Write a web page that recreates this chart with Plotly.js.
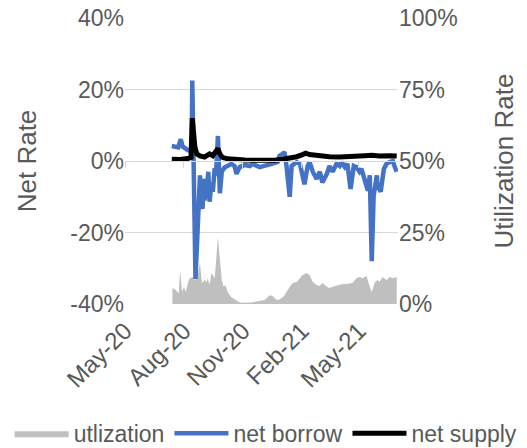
<!DOCTYPE html>
<html>
<head>
<meta charset="utf-8">
<script src="https://cdn.plot.ly/plotly-3.0.1.min.js"></script>
<style>html,body{margin:0;padding:0;background:#fff;}#chart{width:527px;height:448px;}</style>
</head>
<body>
<div id="chart"></div>
<script>
// utilization (right axis, %)
const utilDates = ["2020-07-14","2020-07-19","2020-07-24","2020-07-26","2020-07-29","2020-08-01","2020-08-04","2020-08-07","2020-08-10","2020-08-15","2020-08-18","2020-08-22","2020-08-26","2020-08-29","2020-09-02","2020-09-05","2020-09-07","2020-09-10","2020-09-13","2020-09-18","2020-09-23","2020-09-26","2020-09-29","2020-10-02","2020-10-05","2020-10-08","2020-10-14","2020-10-21","2020-10-27","2020-11-04","2020-11-15","2020-11-24","2020-12-05","2020-12-13","2020-12-17","2020-12-24","2020-12-28","2021-01-02","2021-01-05","2021-01-13","2021-01-18","2021-01-24","2021-01-29","2021-02-02","2021-02-08","2021-02-13","2021-02-18","2021-02-24","2021-03-01","2021-03-05","2021-03-12","2021-03-16","2021-03-21","2021-03-27","2021-04-01","2021-04-06","2021-04-12","2021-04-17","2021-04-21","2021-04-27","2021-05-02","2021-05-07","2021-05-13","2021-05-16","2021-05-21","2021-05-26","2021-05-30","2021-06-02","2021-06-07","2021-06-13","2021-06-18","2021-06-23","2021-06-29"];
const utilValues = [5.6,4.9,3.8,11.9,4.2,6.0,4.2,7.3,9.0,9.4,8.4,9.4,14.3,7.3,8.4,7.7,9.0,6.6,10.8,9.0,23.4,15.4,8.4,6.0,6.6,4.2,2.4,1.4,0.5,0.4,0.5,1.0,1.4,3.1,2.8,1.4,1.6,2.4,3.1,6.0,7.3,7.7,9.0,10.1,10.8,10.1,7.7,6.6,6.3,7.3,6.0,5.6,6.0,6.3,6.6,7.0,7.0,7.3,7.3,9.0,9.4,9.0,9.8,7.3,4.2,7.7,8.4,7.7,9.4,8.4,9.4,9.0,9.4];

// net borrow (left axis, %)
const borrowDates = ["2020-07-13","2020-07-18","2020-07-23","2020-07-27","2020-07-30","2020-08-05","2020-08-10","2020-08-13","2020-08-14","2020-08-19","2020-08-24","2020-08-26","2020-08-27","2020-08-30","2020-09-01","2020-09-02","2020-09-05","2020-09-08","2020-09-10","2020-09-13","2020-09-15","2020-09-18","2020-09-20","2020-09-23","2020-09-26","2020-09-29","2020-10-02","2020-10-04","2020-10-08","2020-10-14","2020-10-19","2020-10-22","2020-10-27","2020-11-04","2020-11-12","2020-11-16","2020-11-27","2020-12-05","2020-12-10","2020-12-16","2020-12-25","2020-12-28","2021-01-02","2021-01-05","2021-01-08","2021-01-13","2021-01-16","2021-01-24","2021-01-29","2021-02-01","2021-02-05","2021-02-10","2021-02-13","2021-02-18","2021-02-24","2021-03-01","2021-03-05","2021-03-12","2021-03-16","2021-03-21","2021-03-27","2021-04-01","2021-04-04","2021-04-09","2021-04-13","2021-04-18","2021-04-23","2021-04-27","2021-05-02","2021-05-05","2021-05-10","2021-05-15","2021-05-18","2021-05-21","2021-05-24","2021-05-29","2021-05-30","2021-06-04","2021-06-09","2021-06-13","2021-06-18","2021-06-23","2021-06-26","2021-06-29"];
const borrowValues = [4.2,3.9,3.8,6.1,4.0,3.3,2.8,3.0,22.5,-33.0,-10.0,-4.0,-12.0,-13.3,-5.0,-11.0,-8.6,-3.0,-11.4,-6.0,-8.6,-2.0,-4.0,7.0,-9.0,-3.0,-2.2,-1.7,-1.4,-0.8,-1.4,-3.6,-1.7,-1.1,-1.4,-0.8,-1.7,-1.4,-1.1,-0.8,-0.3,1.4,2.0,2.5,-1.4,-10.0,-1.4,-0.3,-0.8,-3.6,-6.5,-1.4,-0.3,-3.0,-5.0,-3.0,-6.0,-3.6,-1.4,-3.0,-0.8,-1.4,-0.3,-1.7,-0.8,-7.8,-1.4,-1.7,-3.0,-2.2,-5.8,-8.3,-4.0,-28.0,-9.7,-4.0,-7.0,-8.6,-2.2,-0.8,-0.3,0.0,-1.7,-3.0];

// net supply (left axis, %)
const supplyDates = ["2020-07-13","2020-07-26","2020-08-07","2020-08-12","2020-08-14","2020-08-18","2020-08-21","2020-08-26","2020-09-02","2020-09-10","2020-09-15","2020-09-20","2020-09-23","2020-09-26","2020-09-30","2020-10-08","2020-10-19","2020-11-04","2020-11-20","2020-12-05","2020-12-21","2021-01-02","2021-01-13","2021-01-24","2021-02-02","2021-02-07","2021-02-13","2021-03-01","2021-03-16","2021-04-01","2021-04-17","2021-04-29","2021-05-10","2021-05-21","2021-06-02","2021-06-18","2021-06-29"];
const supplyValues = [0.5,0.4,0.7,1.0,12.0,4.0,2.0,1.4,1.1,2.0,1.5,2.5,3.5,2.0,1.0,0.6,0.4,0.3,0.2,0.1,0.2,0.5,0.8,1.2,1.8,2.2,1.8,1.4,1.2,1.1,1.3,1.7,1.5,1.6,1.4,1.5,1.4];

const xRange = ["2020-05-01","2021-07-01"];
const netTicks = [-40,-20,0,20,40];
const netTickText = ["-40%","-20%","0%","20%","40%"];
const utilTicks = [0,25,50,75,100];
const utilTickText = ["0%","25%","50%","75%","100%"];

const FONT = "Liberation Sans, Arial, sans-serif";
const TXT = "#595959";
const W = 527;
const xDomain = [125 / W, 398 / W];

const traces = [
  {name:"utlization", x:utilDates, y:utilValues, xaxis:"x", yaxis:"y", type:"scatter", mode:"lines",
   fill:"tozeroy", fillcolor:"#BFBFBF", line:{width:0, color:"#BFBFBF"}, hoverinfo:"skip"},
  {name:"net borrow", x:borrowDates, y:borrowValues, xaxis:"x2", yaxis:"y2", type:"scatter", mode:"lines",
   line:{color:"#4472C4", width:4.5}},
  {name:"net supply", x:supplyDates, y:supplyValues, xaxis:"x2", yaxis:"y2", type:"scatter", mode:"lines",
   line:{color:"#000000", width:5}}
];

const layout = {
  width:W, height:448,
  margin:{l:0, r:0, t:18, b:144, pad:0, autoexpand:false},
  paper_bgcolor:"#fff", plot_bgcolor:"rgba(0,0,0,0)",
  font:{family:FONT, size:23, color:TXT},
  showlegend:true,
  legend:{orientation:"h", xref:"container", yref:"container", x:0.505, xanchor:"center", y:0.033, yanchor:"middle",
          font:{size:23, color:TXT}, itemwidth:54, tracegroupgap:0, bgcolor:"rgba(0,0,0,0)", borderwidth:0},
  xaxis:{type:"date", domain:xDomain, range:xRange, tick0:"2020-05-01", dtick:"M3", tickformat:"%b-%y",
         tickangle:-45, showgrid:false, showline:false, zeroline:false, ticks:"", automargin:false,
         ticklabelstandoff:7, tickfont:{size:24, color:TXT}},
  xaxis2:{type:"date", domain:xDomain, range:xRange, tick0:"2020-05-01", dtick:"M3", overlaying:"x", anchor:"free",
          position:0.5, side:"bottom", showline:true, linecolor:"#D9D9D9", linewidth:1, automargin:false,
          ticks:"outside", ticklen:6, tickcolor:"#D9D9D9", showticklabels:false, showgrid:false, zeroline:false},
  yaxis:{range:[0,100], tickmode:"array", tickvals:utilTicks, ticktext:utilTickText, side:"right", showgrid:true, gridcolor:"#D9D9D9",
         gridwidth:1, zeroline:false, showline:false, automargin:false,
         title:{text:"Utilization Rate", standoff:37, font:{size:26, color:TXT}}, tickfont:{size:23, color:TXT}},
  yaxis2:{range:[-40,40], tickmode:"array", tickvals:netTicks, ticktext:netTickText, side:"left", overlaying:"y", showgrid:false,
          zeroline:false, showline:false, automargin:false,
          title:{text:"Net Rate", standoff:26, font:{size:26, color:TXT}}, tickfont:{size:23, color:TXT}}
};

Plotly.newPlot("chart", traces, layout, {displayModeBar:false, staticPlot:true});
</script>
</body>
</html>
